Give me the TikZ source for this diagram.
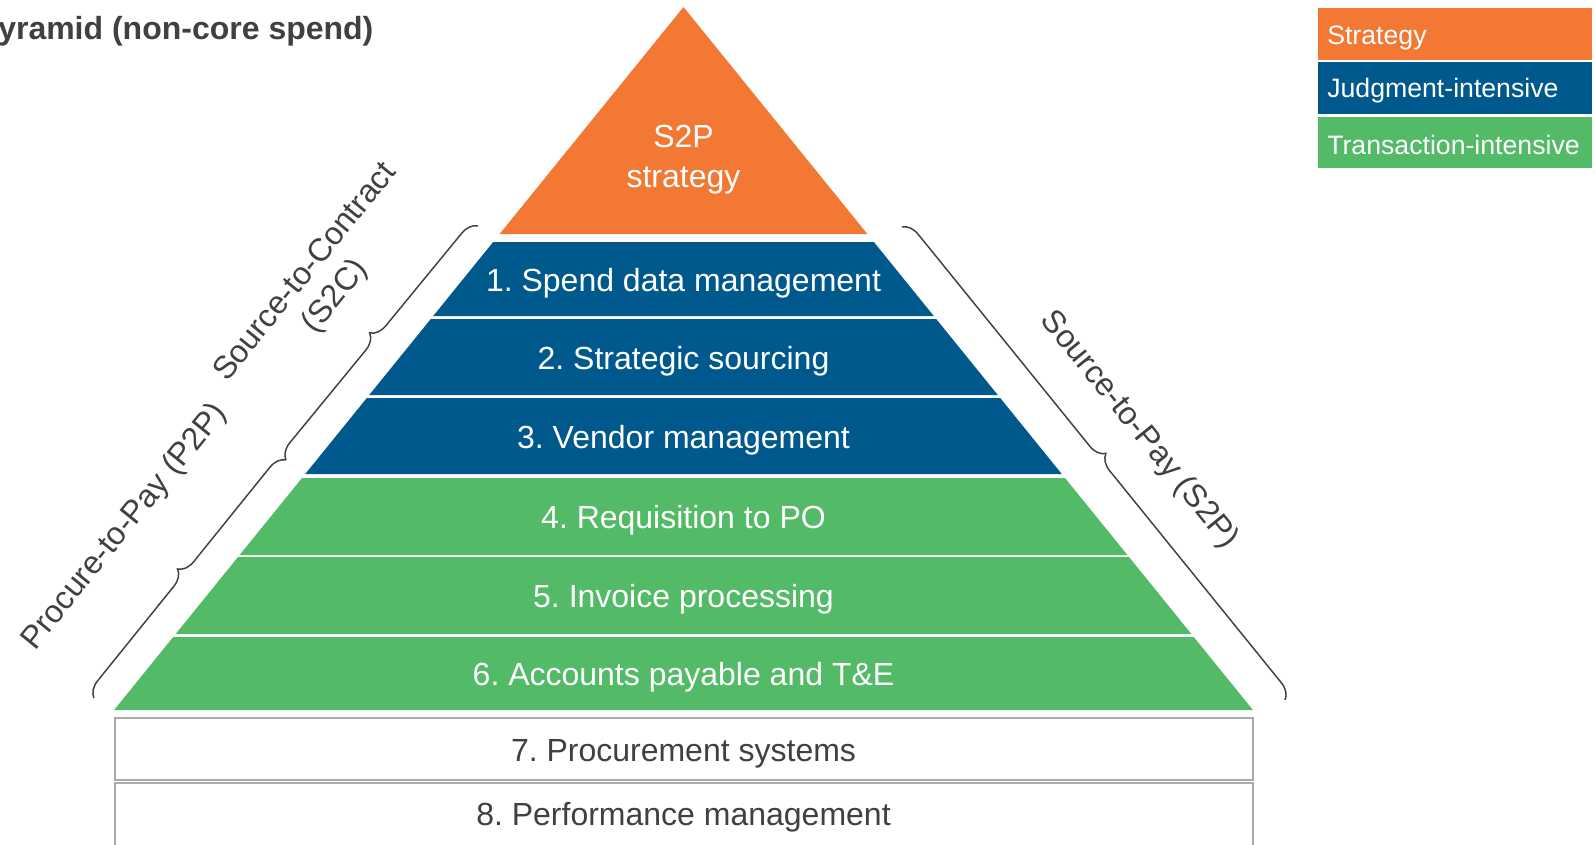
\documentclass[tikz,border=0pt]{standalone}
\usepackage{fontspec}
\setmainfont{Liberation Sans}
\usepackage{xcolor}
\usepackage{tikz}
\usetikzlibrary{decorations.pathreplacing}
\usetikzlibrary{calc}
\frenchspacing
\definecolor{stratorange}{RGB}{242,120,52}
\definecolor{judgeblue}{RGB}{0,89,140}
\definecolor{transgreen}{RGB}{83,186,103}
\definecolor{textgray}{RGB}{64,64,64}
\definecolor{boxgray}{RGB}{170,170,170}
\tikzset{ layer_text/.style = {text=white, font=\fontsize{24}{30}\selectfont, align=center} }
\tikzset{ base_text/.style = {text=textgray, font=\fontsize{24}{30}\selectfont} }
\tikzset{ base_box/.style = {draw=boxgray, line width=1.5pt, fill=white} }
\tikzset{ legend_text/.style = {text=white, anchor=west, inner sep=0pt, font=\fontsize{20}{24}\selectfont} }
\tikzset{ span_brace/.style = {decorate, decoration={brace, amplitude=12pt}, draw=textgray, line width=1.1pt} }
\tikzset{ span_label/.style = {text=textgray, align=center, font=\fontsize{24}{29}\selectfont} }

\begin{document}
\begin{tikzpicture}[x=0.75pt, y=-0.75pt]
    \useasboundingbox (0,0) rectangle (1595,844);
    \node[anchor=west, inner sep=0pt, text=textgray, font=\fontsize{24}{29}\selectfont\bfseries] (title) at (-2, 31) {yramid (non-core spend)};
    \fill[stratorange] (683.5,7) -- (867.4,234) -- (499.6,234) -- cycle;
    \node[layer_text] (S2P) at (683.5, 160) {S2P\\strategy};
    \foreach \top/\bot/\col/\name/\lbl in {
        242/316/judgeblue/spend/{1. Spend data management},
        319/395/judgeblue/sourcing/{2. Strategic sourcing},
        398/474/judgeblue/vendor/{3. Vendor management},
        478/555/transgreen/requisition/{4. Requisition to PO},
        557/634/transgreen/invoice/{5. Invoice processing},
        637/710/transgreen/payable/{6. Accounts payable and T\&E}} {
        \pgfmathsetmacro{\wt}{0.81*(\top-7)}
        \pgfmathsetmacro{\wb}{0.81*(\bot-7)}
        \fill[\col] (683.5-\wt,\top) -- (683.5+\wt,\top) -- (683.5+\wb,\bot) -- (683.5-\wb,\bot) -- cycle;
        \node[layer_text] (\name) at (683.5, {(\top+\bot)/2+4}) {\lbl};
    }
    \draw[base_box] (115,718) rectangle (1253,780);
    \node[base_text] (systems) at (683.5, 754) {7. Procurement systems};
    \draw[base_box] (115,783) rectangle (1253,852);
    \node[base_text] (performance) at (683.5, 817) {8. Performance management};
    \coordinate (c2s) at (478,226);
    \coordinate (mid) at (286,460);
    \coordinate (p2p) at (94,698);
    \coordinate (s2ptop) at (902,227);
    \coordinate (s2pbot) at (1285,700);
    \draw[span_brace] (mid) to (c2s);
    \draw[span_brace] (p2p) to (mid);
    \draw[span_brace] (s2ptop) to (s2pbot);
    \node[span_label, rotate=51] (S2C_lbl) at (321, 285) {Source-to-Contract\\(S2C)};
    \node[span_label, rotate=51] (P2P_lbl) at (125, 527) {Procure-to-Pay (P2P)};
    \node[span_label, rotate=-51] (S2P_lbl) at (1139, 430) {Source-to-Pay (S2P)};
    \fill[stratorange] (1318,8) rectangle (1592,60);
    \node[legend_text] (strategy) at (1327, 38) {Strategy};
    \fill[judgeblue] (1318,62) rectangle (1592,114);
    \node[legend_text] (judgment) at (1327, 91) {Judgment-intensive};
    \fill[transgreen] (1318,117) rectangle (1592,168);
    \node[legend_text] (transaction) at (1327, 145) {Transaction-intensive};
\end{tikzpicture}
\end{document}
